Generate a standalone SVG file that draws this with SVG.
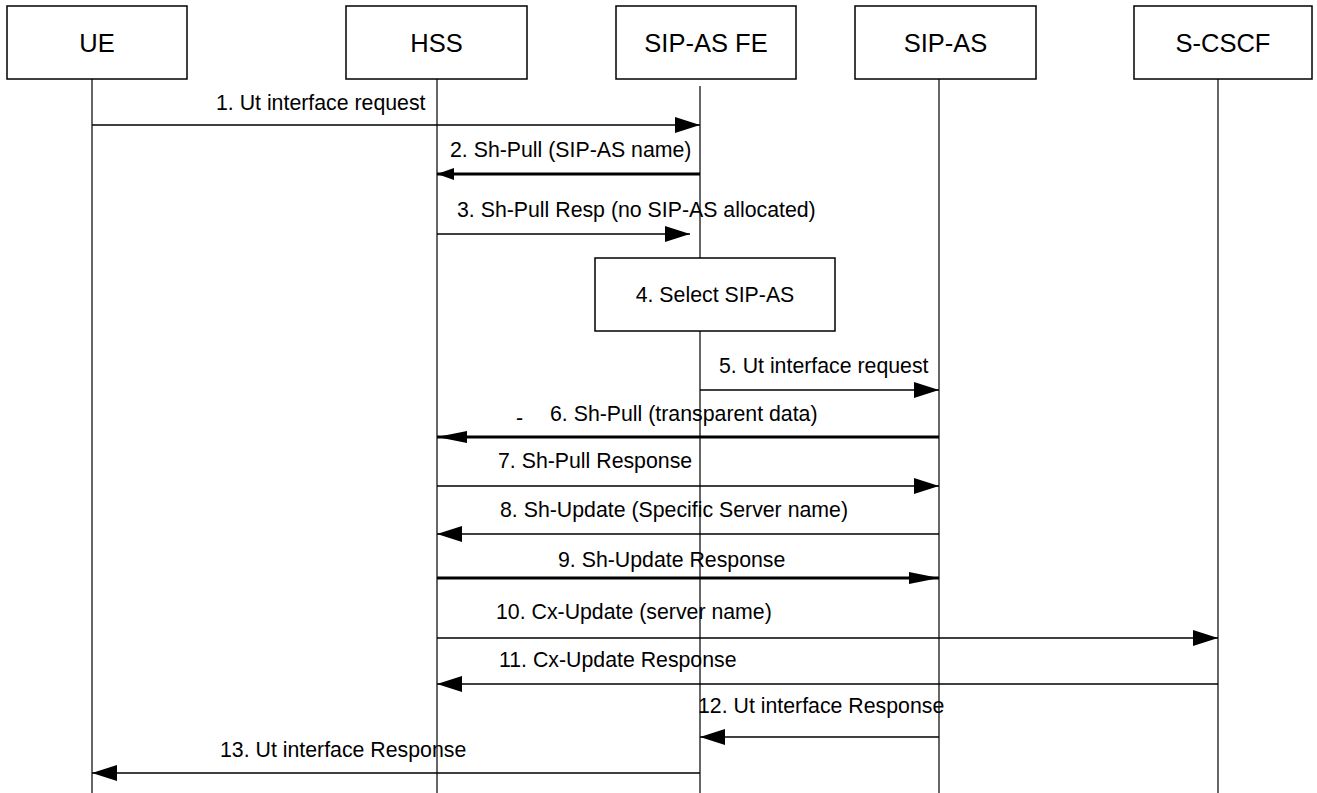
<svg xmlns="http://www.w3.org/2000/svg" width="1317" height="793" viewBox="0 0 1317 793">
  <style>
    .box { fill: #ffffff; stroke: #000000; stroke-width: 1.5; }
    .name { font-family: "Liberation Sans", Arial, sans-serif; font-size: 25.5px; text-anchor: middle; fill: #000000; }
    .lbl { font-family: "Liberation Sans", Arial, sans-serif; font-size: 21.3px; fill: #000000; }
    .life { stroke: #000000; stroke-width: 1.2; fill: none; }
    .msg { stroke: #000000; stroke-width: 1.6; fill: none; }
    .msg.thick { stroke-width: 3; }
  </style>
  <defs>
    <marker id="head" viewBox="0 0 25 16" refX="25" refY="8" markerWidth="25" markerHeight="16" markerUnits="userSpaceOnUse" orient="auto">
      <path d="M0,0 L25,8 L0,16 Z" fill="#000000"/>
    </marker>
    <marker id="headNarrow" viewBox="0 0 30 12" refX="30" refY="6" markerWidth="30" markerHeight="12" markerUnits="userSpaceOnUse" orient="auto">
      <path d="M0,0 L30,6 L0,12 Z" fill="#000000"/>
    </marker>
    <marker id="headSmall" viewBox="0 0 17 12" refX="17" refY="6" markerWidth="17" markerHeight="12" markerUnits="userSpaceOnUse" orient="auto">
      <path d="M0,0 L17,6 L0,12 Z" fill="#000000"/>
    </marker>
  </defs>

  <rect width="1317" height="793" fill="#ffffff"/>

  <!-- lifelines -->
  <g id="lifelines">
    <line class="life" x1="92" y1="79" x2="92" y2="793"/>
    <line class="life" x1="437" y1="79" x2="437" y2="793"/>
    <line class="life" x1="700" y1="86" x2="700" y2="258"/>
    <line class="life" x1="700" y1="331" x2="700" y2="793"/>
    <line class="life" x1="939" y1="79" x2="939" y2="793"/>
    <line class="life" x1="1218" y1="79" x2="1218" y2="793"/>
  </g>

  <!-- participants -->
  <g id="ue">
    <rect class="box" x="7" y="6" width="180" height="73"/>
    <text class="name" x="97" y="52">UE</text>
  </g>
  <g id="hss">
    <rect class="box" x="346" y="6" width="181" height="73"/>
    <text class="name" x="436.5" y="52">HSS</text>
  </g>
  <g id="sip-as-fe">
    <rect class="box" x="616" y="6" width="180" height="73"/>
    <text class="name" x="706" y="52">SIP-AS FE</text>
  </g>
  <g id="sip-as">
    <rect class="box" x="855" y="6" width="181" height="73"/>
    <text class="name" x="945.5" y="52">SIP-AS</text>
  </g>
  <g id="s-cscf">
    <rect class="box" x="1134" y="6" width="178" height="73"/>
    <text class="name" x="1223" y="52">S-CSCF</text>
  </g>

  <!-- local action on the front end -->
  <g id="select-sip-as">
    <rect class="box" x="595" y="258" width="240" height="73"/>
    <text class="lbl" x="715" y="302" text-anchor="middle">4. Select SIP-AS</text>
  </g>

  <!-- messages -->
  <g id="connectors">
    <line class="msg" x1="92" y1="125" x2="700" y2="125" marker-end="url(#head)"/>
    <line class="msg thick" x1="700" y1="174" x2="437" y2="174" marker-end="url(#headSmall)"/>
    <line class="msg" x1="437" y1="234" x2="690" y2="234" marker-end="url(#head)"/>
    <line class="msg" x1="700" y1="390" x2="939" y2="390" marker-end="url(#head)"/>
    <line class="msg thick" x1="939" y1="437" x2="437" y2="437" marker-end="url(#headNarrow)"/>
    <line class="msg" x1="437" y1="486" x2="939" y2="486" marker-end="url(#head)"/>
    <line class="msg" x1="939" y1="534" x2="437" y2="534" marker-end="url(#head)"/>
    <line class="msg thick" x1="437" y1="578" x2="939" y2="578" marker-end="url(#headNarrow)"/>
    <line class="msg" x1="437" y1="638" x2="1218" y2="638" marker-end="url(#head)"/>
    <line class="msg" x1="1218" y1="684" x2="437" y2="684" marker-end="url(#head)"/>
    <line class="msg" x1="939" y1="737" x2="700" y2="737" marker-end="url(#head)"/>
    <line class="msg" x1="700" y1="773" x2="92" y2="773" marker-end="url(#head)"/>
  </g>

  <!-- message labels -->
  <g id="labels">
    <text class="lbl" x="216" y="110">1. Ut interface request</text>
    <text class="lbl" x="450" y="157">2. Sh-Pull (SIP-AS name)</text>
    <text class="lbl" x="457" y="217">3. Sh-Pull Resp (no SIP-AS allocated)</text>
    <text class="lbl" x="719" y="373">5. Ut interface request</text>
    <text class="lbl" x="516" y="425">-</text>
    <text class="lbl" x="550" y="421">6. Sh-Pull (transparent data)</text>
    <text class="lbl" x="498" y="468">7. Sh-Pull Response</text>
    <text class="lbl" x="500" y="517">8. Sh-Update (Specific Server name)</text>
    <text class="lbl" x="558" y="567">9. Sh-Update Response</text>
    <text class="lbl" x="496" y="619">10. Cx-Update (server name)</text>
    <text class="lbl" x="499" y="667">11. Cx-Update Response</text>
    <text class="lbl" x="698" y="713">12. Ut interface Response</text>
    <text class="lbl" x="220" y="757">13. Ut interface Response</text>
  </g>
</svg>
